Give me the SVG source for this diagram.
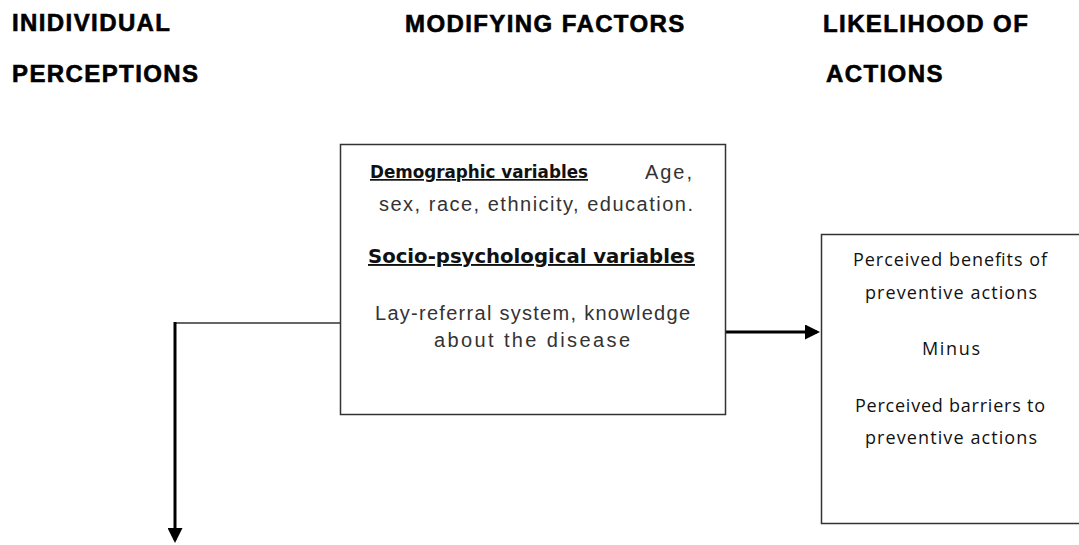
<svg xmlns="http://www.w3.org/2000/svg" width="1079" height="545" viewBox="0 0 1079 545">
<style>
.hdr{font-family:"Liberation Sans",Arial,sans-serif;font-weight:bold;font-size:24px;fill:#000;stroke:#000;stroke-width:0.6;letter-spacing:1.4px}
.box{fill:#fff;stroke:#333;stroke-width:1.5}
.mid{font-family:"Liberation Sans",Arial,sans-serif;font-size:20px;fill:#333}
.midb{font-family:"DejaVu Sans",Verdana,sans-serif;font-weight:bold;font-size:17px;fill:#111;text-decoration:underline}
.rt{font-family:"Open Sans","Liberation Sans",sans-serif;font-size:18px;fill:#111}
.thin{fill:none;stroke:#333;stroke-width:1.5}
.thick{fill:none;stroke:#000;stroke-width:3}
</style>
<defs>
<marker id="ah" markerWidth="5" markerHeight="5" refX="4" refY="2.5" orient="auto" markerUnits="strokeWidth">
<path d="M0,0 L5,2.5 L0,5 Z" fill="#000"/>
</marker>
</defs>
<g id="headers">
<text class="hdr" x="12" y="31">INIDIVIDUAL</text>
<text class="hdr" x="12" y="82">PERCEPTIONS</text>
<text class="hdr" x="405" y="32">MODIFYING FACTORS</text>
<text class="hdr" x="823" y="32">LIKELIHOOD OF</text>
<text class="hdr" x="826" y="82">ACTIONS</text>
</g>
<g id="connectors">
<polyline class="thin" points="340,323 175,323"/>
<line class="thick" x1="175" y1="322" x2="175" y2="540" marker-end="url(#ah)"/>
<line class="thick" x1="726" y1="332" x2="817" y2="332" marker-end="url(#ah)"/>
</g>
<g id="modifying-factors">
<rect class="box" x="340.5" y="144.5" width="385" height="270"/>
<text class="midb" x="370" y="178" textLength="218" lengthAdjust="spacingAndGlyphs">Demographic variables</text>
<text class="mid" x="645" y="179" textLength="47" lengthAdjust="spacing">Age,</text>
<text class="mid" x="379" y="211" textLength="314" lengthAdjust="spacing">sex, race, ethnicity, education.</text>
<text class="midb" x="368" y="263" textLength="327" lengthAdjust="spacingAndGlyphs" style="font-size:19px">Socio-psychological variables</text>
<text class="mid" x="375" y="320" textLength="315" lengthAdjust="spacing">Lay-referral system, knowledge</text>
<text class="mid" x="434" y="347" textLength="196" lengthAdjust="spacing">about the disease</text>
</g>
<g id="likelihood">
<rect class="box" x="821.5" y="234.5" width="260" height="289"/>
<text class="rt" x="853" y="266" textLength="194" lengthAdjust="spacing">Perceived benefits of</text>
<text class="rt" x="865" y="299" textLength="172" lengthAdjust="spacing">preventive actions</text>
<text class="rt" x="922" y="355" textLength="58" lengthAdjust="spacing">Minus</text>
<text class="rt" x="855" y="412" textLength="190" lengthAdjust="spacing">Perceived barriers to</text>
<text class="rt" x="865" y="444" textLength="172" lengthAdjust="spacing">preventive actions</text>
</g>
</svg>
